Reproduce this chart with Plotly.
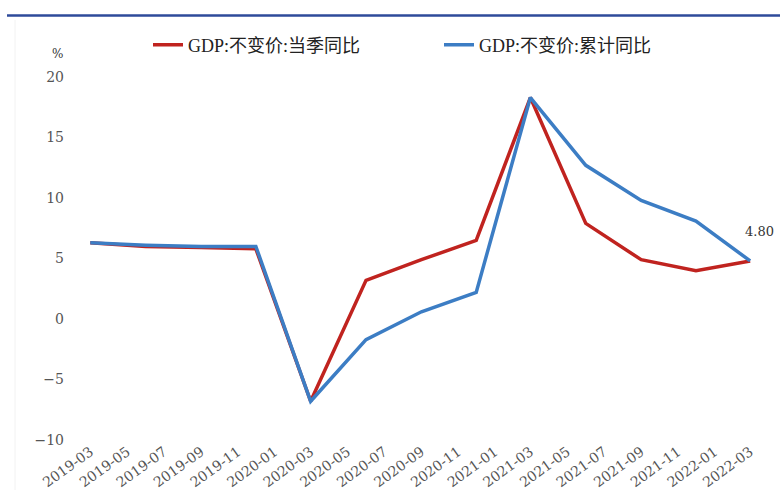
import plotly.graph_objects as go

quarters = ["2019-03-01", "2019-06-01", "2019-09-01", "2019-12-01",
            "2020-03-01", "2020-06-01", "2020-09-01", "2020-12-01",
            "2021-03-01", "2021-06-01", "2021-09-01", "2021-12-01",
            "2022-03-01"]
quarterly_yoy = [6.3, 6.0, 5.9, 5.8, -6.8, 3.2, 4.9, 6.5, 18.3, 7.9, 4.9, 4.0, 4.8]
cumulative_yoy = [6.3, 6.1, 6.0, 6.0, -6.8, -1.7, 0.6, 2.2, 18.3, 12.7, 9.8, 8.1, 4.8]
series_names = ["GDP:不变价:当季同比", "GDP:不变价:累计同比"]
last_label = "4.80"

W, H = 780, 495
L, R, T, B = 65, 10, 77, 55

def px_x(px):
    return (px - L) / (W - L - R)

def px_y(py):
    return 1 - (py - T) / (H - T - B)

serif = "DejaVu Serif, Liberation Serif, serif"
cjk = "SimSun, Liberation Serif, Noto Sans CJK SC"

fig = go.Figure()
fig.add_trace(go.Scatter(x=quarters, y=quarterly_yoy, mode="lines", name=series_names[0],
                         line=dict(color="#C0231F", width=3.5)))
fig.add_trace(go.Scatter(x=quarters, y=cumulative_yoy, mode="lines", name=series_names[1],
                         line=dict(color="#3C7DC4", width=3.5)))

fig.update_layout(
    width=W, height=H,
    margin=dict(l=L, r=R, t=T, b=B, autoexpand=False),
    paper_bgcolor="white", plot_bgcolor="white",
    showlegend=True,
    legend=dict(orientation="h", x=px_x(148), y=px_y(45), yanchor="middle", xanchor="left",
                font=dict(family=cjk, size=18, color="#222"),
                itemwidth=30, entrywidth=246, entrywidthmode="pixels",
                bgcolor="rgba(0,0,0,0)"),
    xaxis=dict(type="date", range=["2019-01-18", "2022-04-03"],
               tick0="2019-03-01", dtick="M2", tickformat="%Y-%m", tickangle=-36,
               showgrid=False, zeroline=False, showline=False, ticks="",
               automargin=False,
               tickfont=dict(family=serif, size=14, color="#555")),
    yaxis=dict(range=[-10, 20], dtick=5, showgrid=False, zeroline=False, showline=False,
               ticks="", automargin=False, tickfont=dict(family=serif, size=14, color="#555"),
               tickformat="d"),
    annotations=[
        dict(text="%", xref="paper", yref="paper", x=px_x(50), y=px_y(45),
             showarrow=False, font=dict(family=serif, size=12, color="#333")),
        dict(text=last_label, x=quarters[-1], y=quarterly_yoy[-1], xshift=9, yshift=29,
             showarrow=False, font=dict(family=serif, size=13, color="#333")),
    ],
    shapes=[
        dict(type="line", xref="paper", yref="paper", x0=px_x(7), x1=px_x(780),
             y0=px_y(15.5), y1=px_y(15.5), line=dict(color="#2E4A9A", width=2.5)),
        dict(type="line", xref="paper", yref="paper", x0=px_x(15), x1=px_x(15),
             y0=px_y(20), y1=px_y(490), line=dict(color="#F2F2F2", width=1)),
    ],
)

fig.write_html("out.html", config={"displayModeBar": False},
               post_script="document.body.style.margin='0';document.body.style.overflow='hidden';")
